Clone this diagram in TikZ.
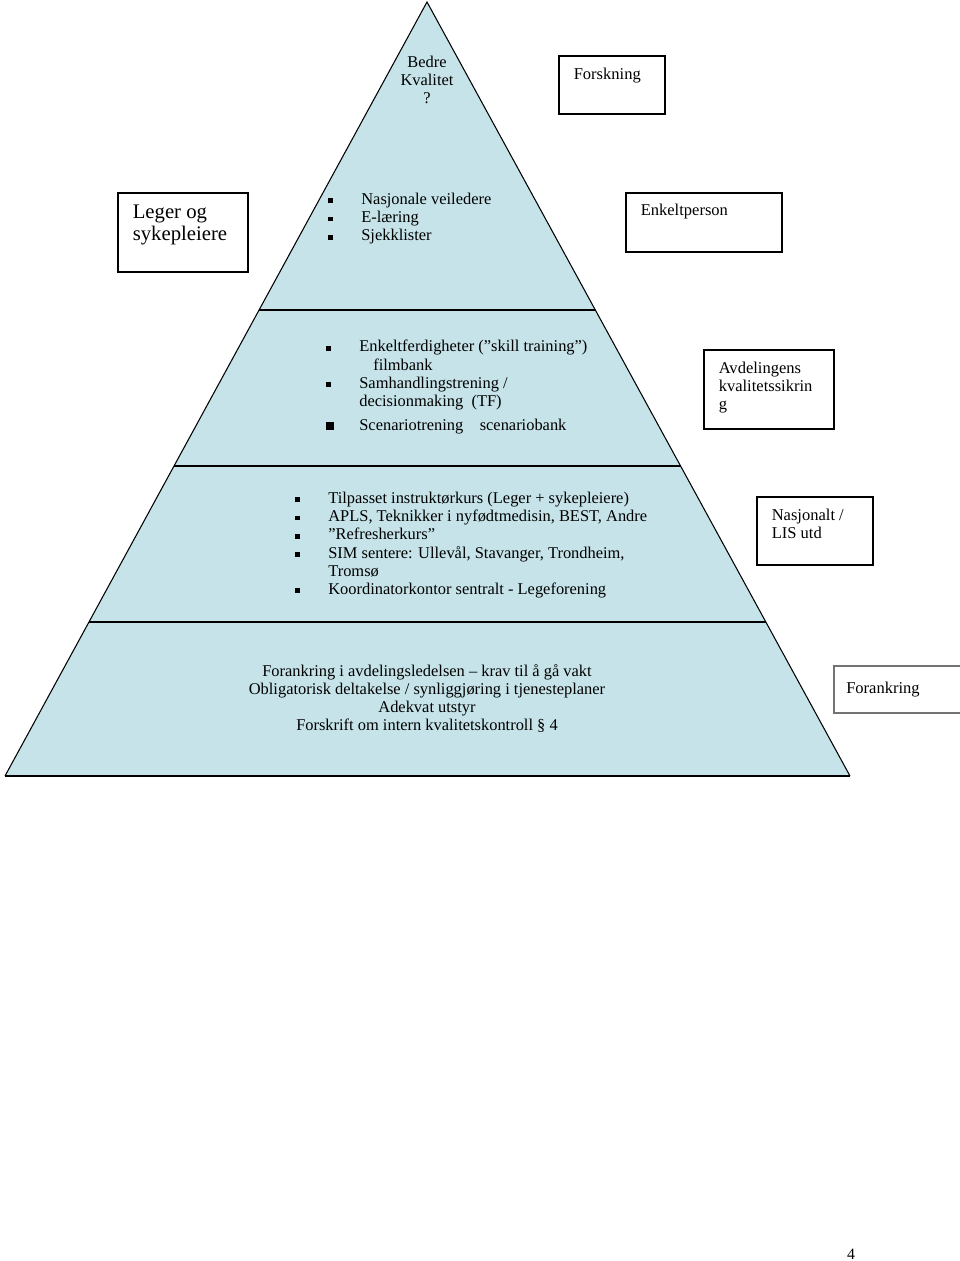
\documentclass[tikz,border=0pt]{standalone}
\usepackage{fontspec}
\setmainfont{Liberation Serif}
\usetikzlibrary{positioning,calc}
\definecolor{pyramidblue}{RGB}{197,227,232}
\tikzstyle{sidebox} = [draw, line width=0.9pt, anchor=north west, inner xsep=0.3cm, inner ysep=0.25cm, font=\fontsize{9.4}{10.2}\selectfont]
\tikzstyle{tiertext} = [anchor=north west, align=left, inner sep=0pt, font=\fontsize{9.35}{10.3}\selectfont]
\tikzstyle{tierline} = [line width=0.6pt]
\newcommand{\sqb}{\makebox[0.66cm][l]{\rule[0.8pt]{2.8pt}{2.8pt}}}
\newcommand{\bigsqb}{\makebox[0.66cm][l]{\rule[0pt]{4.5pt}{4.5pt}}}
\newcommand{\boxlines}[3]{\parbox[t][#2][t]{#1}{\raggedright #3}}
\begin{document}
\begin{tikzpicture}[x=0.02cm,y=-0.02cm]
\useasboundingbox (0,0) rectangle (960,1261);

% pyramid
\coordinate (top) at (427,2);
\coordinate (bl) at (5,776);
\coordinate (br) at (850,776);
\fill[pyramidblue] (top) -- (br) -- (bl) -- cycle;
\draw[tierline] (bl) -- (top) -- (br);
\draw[tierline] (bl) -- (br);
\foreach \y [evaluate=\y as \f using (\y-2)/774] in {310,466,622}
    \draw[tierline] ($(top)!\f!(bl)$) -- ($(top)!\f!(br)$);

% text in the tiers
\node[align=center, inner sep=0pt, anchor=north, font=\fontsize{9.35}{10.3}\selectfont] (apex) at (427,56) {Bedre\\Kvalitet\\?};
\node[tiertext] (tiertwo) at (328,193) {\sqb Nasjonale veiledere\\ \sqb E-læring\\ \sqb Sjekklister};
\node[tiertext] (tierthree) at (326,340) {\sqb Enkeltferdigheter (”skill training”)\\
    \hspace{0.94cm}filmbank\\
    \sqb Samhandlingstrening /\\
    \hspace{0.66cm}decisionmaking~ (TF)\\[3.4pt]
    \bigsqb Scenariotrening\quad scenariobank};
\node[tiertext] (tierfour) at (295,492) {\sqb Tilpasset instruktørkurs (Leger + sykepleiere)\\
    \sqb APLS, Teknikker i nyfødtmedisin, BEST, Andre\\
    \sqb ”Refresherkurs”\\
    \sqb SIM sentere: Ullevål, Stavanger, Trondheim,\\
    \hspace{0.66cm}Tromsø\\
    \sqb Koordinatorkontor sentralt - Legeforening};
\node[align=center, inner sep=0pt, anchor=north, font=\fontsize{9.35}{10.3}\selectfont] (tierfive) at (427,664) {Forankring i avdelingsledelsen -- krav til å gå vakt\\
    Obligatorisk deltakelse / synliggjøring i tjenesteplaner\\
    Adekvat utstyr\\
    Forskrift om intern kvalitetskontroll § 4};

% boxes beside the pyramid
\node[sidebox, inner ysep=0.24cm] (forskning) at (558,55) {\boxlines{1.52cm}{0.68cm}{Forskning}};
\node[sidebox, font=\fontsize{11.8}{12.5}\selectfont] (leger) at (117,192) {\boxlines{2.0cm}{1.08cm}{Leger og\\sykepleiere}};
\node[sidebox, inner ysep=0.22cm] (enkeltperson) at (625,192) {\boxlines{2.52cm}{0.74cm}{Enkeltperson}};
\node[sidebox] (avdeling) at (703,349) {\boxlines{2.0cm}{1.08cm}{Avdelingens\\kvalitetssikrin\\g}};
\node[sidebox] (nasjonalt) at (756,496) {\boxlines{1.72cm}{0.86cm}{Nasjonalt /\\LIS utd}};
\node[sidebox, draw=black!55, inner xsep=0.25cm, inner ysep=0.32cm] (forankring) at (833,665) {\boxlines{2.3cm}{0.3cm}{Forankring}};

% page number
\node[inner sep=0pt, anchor=south, font=\fontsize{9}{10}\selectfont] (pagenum) at (851,1260) {4};
\end{tikzpicture}
\end{document}
